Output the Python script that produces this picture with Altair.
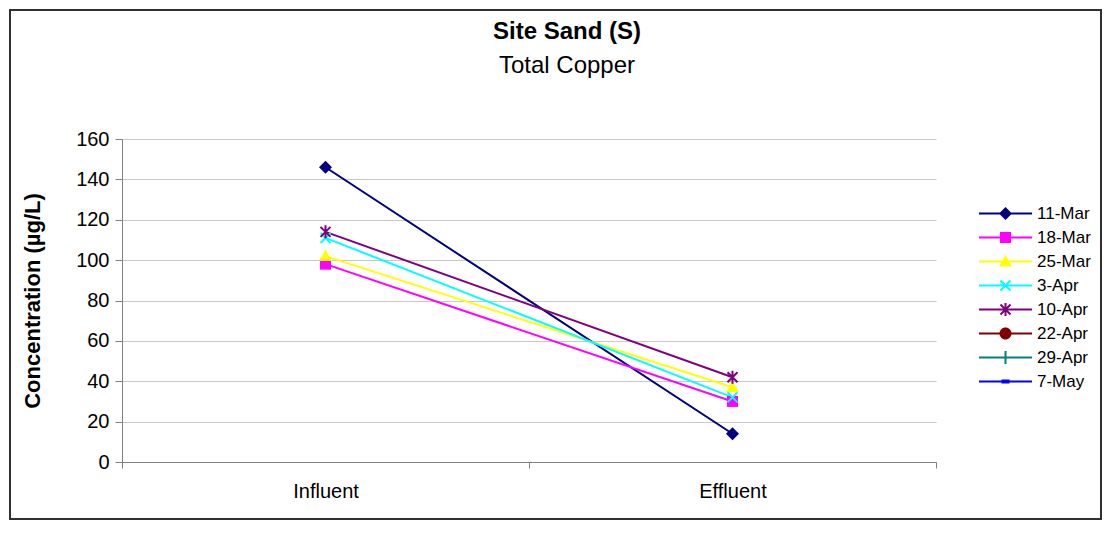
import altair as alt
import pandas as pd

# ---------------- data ----------------
dates = ["11-Mar", "18-Mar", "25-Mar", "3-Apr", "10-Apr", "22-Apr", "29-Apr", "7-May"]
stages = ["Influent", "Effluent"]
influent = [146, 98, 102, 111, 114, None, None, None]
effluent = [14, 30, 37, 32, 42, None, None, None]
colors = ["#000080", "#FF00FF", "#FFFF00", "#00FFFF", "#800080", "#800000", "#008080", "#0000FF"]
title_text = "Site Sand (S)"
subtitle_text = "Total  Copper"

rows = []
for d, i_v, e_v in zip(dates, influent, effluent):
    if i_v is not None:
        rows.append({"date": d, "stage": "Influent", "value": i_v})
    if e_v is not None:
        rows.append({"date": d, "stage": "Effluent", "value": e_v})
df = pd.DataFrame(rows)

# ---------------- marker shapes (custom SVG paths) ----------------
R = 6.0  # px per path unit for symbol size 144


def _area(pts):
    s = 0.0
    for k in range(len(pts)):
        x1, y1 = pts[k]
        x2, y2 = pts[(k + 1) % len(pts)]
        s += x1 * y2 - x2 * y1
    return s


def poly(pts):
    if _area(pts) < 0:
        pts = pts[::-1]
    return "M" + "L".join(f"{x / R:.4f},{y / R:.4f}" for x, y in pts) + "Z"


def seg(p1, p2, hw):
    (x1, y1), (x2, y2) = p1, p2
    L = ((x2 - x1) ** 2 + (y2 - y1) ** 2) ** 0.5
    nx, ny = -(y2 - y1) / L * hw, (x2 - x1) / L * hw
    return poly([(x1 + nx, y1 + ny), (x2 + nx, y2 + ny), (x2 - nx, y2 - ny), (x1 - nx, y1 - ny)])


def circ(rad):
    r = rad / R
    return f"M{r:.4f},0A{r:.4f},{r:.4f},0,1,1,{-r:.4f},0A{r:.4f},{r:.4f},0,1,1,{r:.4f},0Z"


xmark = seg((-5, -5), (5, 5), 1) + seg((-5, 5), (5, -5), 1)
markers = [
    poly([(0, -6.5), (6.5, 0), (0, 6.5), (-6.5, 0)]),
    poly([(-5.5, -5.5), (5.5, -5.5), (5.5, 5.5), (-5.5, 5.5)]),
    poly([(0, -6.5), (6.5, 5), (-6.5, 5)]),
    xmark,
    xmark + seg((0, -6.5), (0, 6.5), 1),
    circ(6),
    seg((0, -6.5), (0, 6.5), 1) + seg((-6.5, 0), (6.5, 0), 1),
    poly([(-4, -2), (4, -2), (4, 2), (-4, 2)]),
]
legend_line = seg((-26.5, 0), (26.5, 0), 1)
legend_markers = [legend_line + m for m in markers]

W, H = 814, 323
PAD = {"left": 114, "top": 131, "right": 167, "bottom": 59}
FONT = "Liberation Sans"

x_enc = alt.X(
    "stage:N",
    sort=stages,
    bandPosition=0.5,
    scale=alt.Scale(type="band", domain=stages, paddingInner=0, paddingOuter=0),
    axis=alt.Axis(
        title=None, labelAngle=0, tickBand="extent", grid=False, domainColor="#808080",
        tickColor="#808080", tickSize=6, labelFontSize=20, labelPadding=13, labelColor="#000000",
    ),
)
y_enc = alt.Y(
    "value:Q",
    scale=alt.Scale(domain=[0, 160], nice=False),
    axis=alt.Axis(
        title="Concentration (µg/L)", values=list(range(0, 161, 20)), grid=True,
        gridColor="#c8c8c8", domainColor="#808080", tickColor="#808080", tickSize=7,
        labelFontSize=20, labelPadding=6, labelColor="#000000", titleFontSize=22,
        titleFontWeight="bold", titlePadding=31, titleColor="#000000",
    ),
)

color_scale = alt.Scale(domain=dates, range=colors)

border = alt.Chart(alt.Data(values=[{"k": 1}])).mark_rect(
    fillOpacity=0, stroke="#303030", strokeWidth=2
).encode(
    x=alt.value(-112), x2=alt.value(W + PAD["right"] - 2),
    y=alt.value(-129), y2=alt.value(H + PAD["bottom"] - 2),
)

title_mark = alt.Chart(alt.Data(values=[{"t": title_text}])).mark_text(
    fontSize=24, fontWeight="bold", font=FONT, color="#000000", align="center", baseline="alphabetic"
).encode(text="t:N", x=alt.value(445), y=alt.value(-100))

subtitle_mark = alt.Chart(alt.Data(values=[{"t": subtitle_text}])).mark_text(
    fontSize=24, font=FONT, color="#000000", align="center", baseline="alphabetic"
).encode(text="t:N", x=alt.value(445), y=alt.value(-66))

lines = alt.Chart(df).mark_line(strokeWidth=2).encode(
    x=x_enc, y=y_enc,
    color=alt.Color("date:N", scale=color_scale, legend=None),
    detail="date:N",
)

points = alt.Chart(df).mark_point(filled=True, opacity=1, strokeWidth=0, size=144).encode(
    x=x_enc, y=y_enc,
    color=alt.Color("date:N", scale=color_scale, legend=None),
    shape=alt.Shape("date:N", scale=alt.Scale(domain=dates, range=markers), legend=None),
)

legend_layer = alt.Chart(df).transform_filter("false").mark_point(
    filled=True, opacity=1, strokeWidth=0, size=144
).encode(
    x=x_enc, y=y_enc,
    color=alt.Color("date:N", scale=color_scale, title=None),
    shape=alt.Shape(
        "date:N", scale=alt.Scale(domain=dates, range=legend_markers), title=None,
        legend=alt.Legend(
            orient="none", legendX=875, legendY=66, padding=0, symbolSize=144,
            symbolStrokeWidth=0, labelFontSize=17, labelOffset=23, rowPadding=6,
            labelColor="#000000", labelFont=FONT,
        ),
    ),
)

chart = alt.layer(border, title_mark, subtitle_mark, lines, points, legend_layer).resolve_scale(
    color="independent", shape="independent"
).properties(
    width=W, height=H, padding=PAD, autosize=alt.AutoSizeParams(type="none"),
).configure(font=FONT).configure_view(strokeWidth=0)

chart.save("out.html", embed_options={"renderer": "svg", "actions": False})
